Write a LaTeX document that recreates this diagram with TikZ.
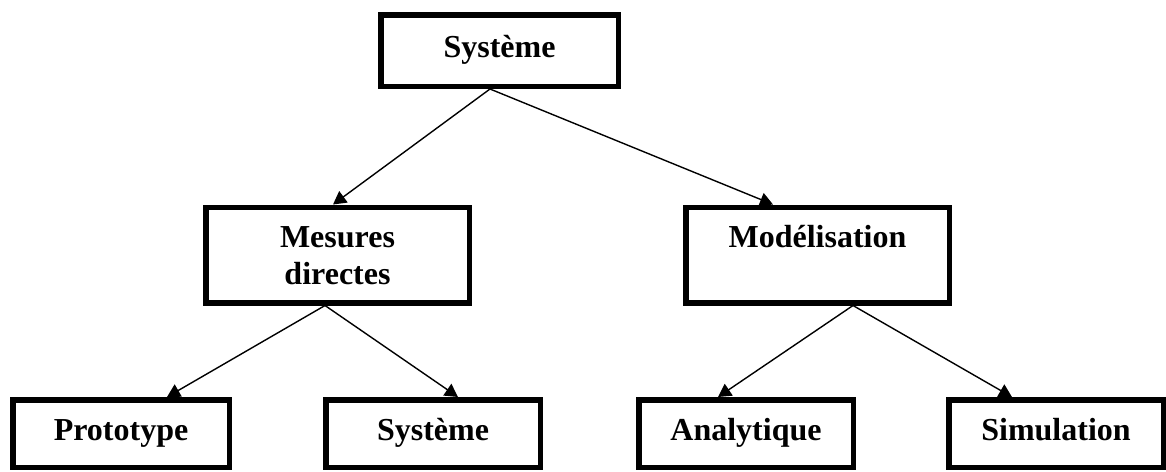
\documentclass[tikz,border=0pt]{standalone}
\usepackage{fontspec}
\setmainfont{Liberation Serif}
\usetikzlibrary{arrows.meta,calc}
\newcommand{\tallstrut}{\rule{0pt}{34pt}}
\begin{document}
\begin{tikzpicture}[x=1pt,y=-1pt,
  box/.style={draw,line width=5.5pt,inner sep=0pt,align=center,
    font=\bfseries\fontsize{32}{37}\selectfont},
  topbox/.style={box,minimum width=237.5pt,minimum height=71.5pt},
  midbox/.style={box,minimum width=263.5pt,minimum height=95.5pt},
  lowbox/.style={box,minimum width=214.5pt,minimum height=67.5pt},
  conn/.style={line width=1.4pt,-{Triangle[length=13pt,width=14pt]}}]
\useasboundingbox (0,0) rectangle (1166,471);
\node[topbox] (sys) at (499.5,50.5) {\strut Système};
\node[midbox] (mes) at (337.5,255) {\tallstrut Mesures\\\strut directes};
\node[midbox] (mod) at (817.5,255) {\tallstrut Modélisation\\\strut};
\node[lowbox,minimum width=216.5pt] (pro) at (121,433.5) {\strut Prototype};
\node[lowbox] (sy2) at (433,433.5) {\strut Système};
\node[lowbox] (ana) at (746,433.5) {\strut Analytique};
\node[lowbox] (sim) at (1056,433.5) {\strut Simulation};
\draw[conn] ($(sys.south)+(-9.5,0)$) -- ($(mes.north)+(-4.5,0)$);
\draw[conn] ($(sys.south)+(-9.5,0)$) -- ($(mod.north)+(-44.5,0)$);
\draw[conn] ($(mes.south)+(-12.5,0)$) -- ($(pro.north)+(46,0)$);
\draw[conn] ($(mes.south)+(-12.5,0)$) -- ($(sy2.north)+(25,0)$);
\draw[conn] ($(mod.south)+(35.5,0)$) -- ($(ana.north)+(-28,0)$);
\draw[conn] ($(mod.south)+(35.5,0)$) -- ($(sim.north)+(-44,0)$);
\end{tikzpicture}
\end{document}
